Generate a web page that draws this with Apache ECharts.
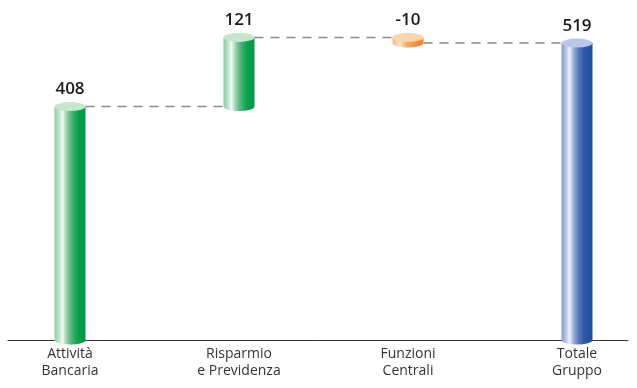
<!DOCTYPE html>
<html>
<head>
<meta charset="utf-8">
<script src="https://cdn.jsdelivr.net/npm/echarts@6/dist/echarts.min.js"></script>
<style>
  html, body { margin: 0; padding: 0; background: #fff; }
  #chart { width: 637px; height: 388px; }
</style>
</head>
<body>
<div id="chart"></div>
<script>
// data
const categories = ['Attività\nBancaria', 'Risparmio\ne Previdenza', 'Funzioni\nCentrali', 'Totale\nGruppo'];
const values = [408, 121, -10, 519];
const isTotal = [false, false, false, true];

// running totals -> [index, low, high, kind, value, levelAfter]
const rows = [];
let run = 0;
values.forEach((v, i) => {
  let low, high, kind;
  if (isTotal[i]) {
    low = 0; high = v; kind = 'total'; run = v;
  } else {
    const next = run + v;
    low = Math.min(run, next); high = Math.max(run, next);
    kind = v < 0 ? 'neg' : 'pos';
    run = next;
  }
  rows.push([i, low, high, kind, v, run]);
});

const palette = {
  pos: {
    top: '#c4e6cd',
    stops: [[0, '#86cf9e'], [0.14, '#b9e4c6'], [0.26, '#f2fbf5'], [0.36, '#a9dcb8'], [0.48, '#6bc08a'], [0.62, '#35ab67'], [0.78, '#03a04b'], [1, '#009a46']]
  },
  neg: {
    top: '#fbd4ab',
    stops: [[0, '#f6b47b'], [0.25, '#fde6cf'], [0.45, '#f6ad6c'], [0.75, '#f1923f'], [1, '#ee8733']]
  },
  total: {
    top: '#bac6e6',
    stops: [[0, '#8197cd'], [0.14, '#b7c4e6'], [0.26, '#eef1fa'], [0.38, '#a2b3de'], [0.55, '#5877bd'], [0.75, '#2c57a7'], [1, '#1f4c9d']]
  }
};

function grad(stops) {
  return {
    type: 'linear', x: 0, y: 0, x2: 1, y2: 0,
    colorStops: stops.map(s => ({ offset: s[0], color: s[1] }))
  };
}

const RX = 15.5, RY = 4.5;
// bar centres sit 169px apart, first one at x=70
const xMin = -70 / 169, xMax = 567 / 169;

function renderBar(params, api) {
  const i = api.value(0);
  const low = api.value(1), high = api.value(2);
  const kind = rows[i][3];
  const level = api.value(5);
  const cx = api.coord([i, 0])[0];
  const y0 = api.coord([i, low])[1];
  const y1 = api.coord([i, high])[1];
  const L = cx - RX, R = cx + RX;
  const p = palette[kind];
  const children = [];

  // dashed connector to the next bar
  if (i < rows.length - 1) {
    const nx = api.coord([i + 1, 0])[0];
    const ly = api.coord([i, level])[1];
    children.push({
      type: 'line',
      shape: { x1: R, y1: ly, x2: nx - RX, y2: ly },
      style: { stroke: '#8c8c8c', lineWidth: 1.5, lineDash: [9, 7] },
      z2: 1
    });
  }

  // body with rounded bottom
  children.push({
    type: 'path',
    shape: {
      pathData: 'M' + L + ' ' + y1 + ' L' + L + ' ' + y0 +
        ' A' + RX + ' ' + RY + ' 0 0 0 ' + R + ' ' + y0 +
        ' L' + R + ' ' + y1 + ' Z'
    },
    style: { fill: grad(p.stops) },
    z2: 2
  });

  // top cap
  children.push({
    type: 'path',
    shape: {
      pathData: 'M' + L + ' ' + y1 +
        ' A' + RX + ' ' + RY + ' 0 1 0 ' + R + ' ' + y1 +
        ' A' + RX + ' ' + RY + ' 0 1 0 ' + L + ' ' + y1 + ' Z'
    },
    style: { fill: p.top },
    z2: 3
  });

  // value label
  children.push({
    type: 'text',
    style: {
      text: String(api.value(4)),
      x: cx, y: y1 - RY - 4,
      align: 'center', verticalAlign: 'bottom',
      fontSize: 17, fontWeight: 600, fontFamily: 'Open Sans', fill: '#1a1a1a'
    },
    z2: 4
  });

  return { type: 'group', children };
}

const chart = echarts.init(document.getElementById('chart'));
chart.setOption({
  animation: false,
  grid: [
    { left: 0, right: 0, top: 2.5, bottom: 48 },
    { left: 8, right: 9, top: 2.5, bottom: 48 }
  ],
  xAxis: [{
    type: 'value',
    gridIndex: 0,
    min: xMin, max: xMax,
    axisLine: { show: false },
    axisTick: { show: false },
    splitLine: { show: false },
    axisLabel: {
      customValues: [0, 1, 2, 3],
      formatter: v => categories[Math.round(v)],
      margin: 6, fontSize: 14, lineHeight: 17,
      fontFamily: 'Open Sans', color: '#333'
    }
  }, {
    type: 'value',
    gridIndex: 1,
    min: 0, max: 1,
    axisLine: { show: true, lineStyle: { color: '#333', width: 1 } },
    axisTick: { show: false },
    axisLabel: { show: false },
    splitLine: { show: false }
  }],
  yAxis: [{
    type: 'value', gridIndex: 0, min: 0, max: 590,
    show: false
  }, {
    type: 'value', gridIndex: 1, min: 0, max: 590,
    show: false
  }],
  series: [{
    type: 'custom',
    xAxisIndex: 0, yAxisIndex: 0,
    renderItem: renderBar,
    encode: { x: 0, y: [1, 2] },
    data: rows.map(r => [r[0], r[1], r[2], 0, r[4], r[5]])
  }]
});
</script>
</body>
</html>
